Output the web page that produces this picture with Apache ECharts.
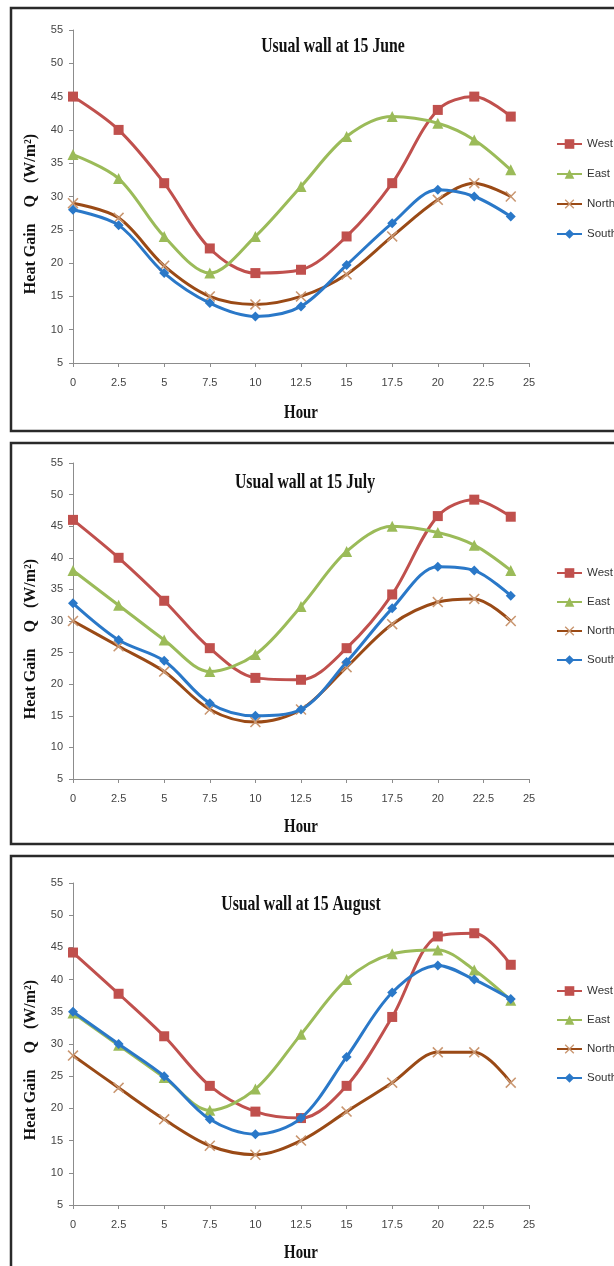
<!DOCTYPE html>
<html><head><meta charset="utf-8">
<script src="https://cdn.jsdelivr.net/npm/echarts@6/dist/echarts.min.js"></script>
<style>html,body{margin:0;padding:0;background:#fff}#c{width:614px;height:1266px}</style>
</head><body><div id="c"></div>
<script>
// ---- data ----
const hours = [0, 2.5, 5, 7.5, 10, 12.5, 15, 17.5, 20, 22, 24];
const seriesNames = ['West', 'East', 'North', 'South'];
const panelTitles = ['Usual wall at 15 June', 'Usual wall at 15 July', 'Usual wall at 15 August'];
const yAxisTitle = 'Heat Gain    Q   (W/m\u00B2)';
const xAxisTitle = 'Hour';
const xMin = 0, xMax = 25, xStep = 2.5;
const yMin = 5, yMax = 55, yStep = 5;

const juneWest  = [45, 40, 32, 22.2, 18.5, 19, 24, 32, 43, 45, 42];
const juneEast  = [36.3, 32.7, 24, 18.5, 24, 31.5, 39, 42, 41, 38.5, 34];
const juneNorth = [29, 26.8, 19.6, 15, 13.8, 15, 18.3, 24, 29.5, 32, 30];
const juneSouth = [28, 25.7, 18.5, 14, 12, 13.5, 19.7, 26, 31, 30, 27];

const julyWest  = [46, 40, 33.2, 25.7, 21, 20.7, 25.7, 34.2, 46.6, 49.2, 46.5];
const julyEast  = [38, 32.5, 27, 22, 24.7, 32.3, 41, 45, 44, 42, 38];
const julyNorth = [30, 26, 22, 16, 14, 16, 22.7, 29.5, 33, 33.5, 30];
const julySouth = [32.8, 27, 23.7, 17, 15, 16, 23.5, 32, 38.6, 38, 34];

const augWest  = [44.2, 37.8, 31.2, 23.5, 19.5, 18.5, 23.5, 34.2, 46.7, 47.2, 42.3];
const augEast  = [34.8, 29.8, 24.8, 19.7, 23, 31.5, 40, 44, 44.6, 41.5, 36.8];
const augNorth = [28.2, 23.2, 18.3, 14.2, 12.8, 15, 19.5, 24, 28.7, 28.7, 24];
const augSouth = [35, 30, 25, 18.3, 16, 18.5, 28, 38, 42.2, 40, 37];

const panelData = [
  [juneWest, juneEast, juneNorth, juneSouth],
  [julyWest, julyEast, julyNorth, julySouth],
  [augWest, augEast, augNorth, augSouth]
];

// ---- styles / layout ----
const colors = {
  West:  {line: '#C0504D', mark: '#C0504D', symbol: 'rect', size: 10},
  East:  {line: '#9BBB59', mark: '#9BBB59', symbol: 'triangle', size: 11},
  North: {line: '#9A4A16', mark: '#C99670', symbol: 'path://M0,1 L1,0 L5,4 L9,0 L10,1 L6,5 L10,9 L9,10 L5,6 L1,10 L0,9 L4,5 Z', size: 11},
  South: {line: '#2A78C8', mark: '#2A78C8', symbol: 'diamond', size: 10}
};
const layout = [
  {top: 30,  y5: 363,  legendTop: 133, gap: 18, titleX: 333, titleY: 47,  yNameY: 214,  hourY: 413,  boxTop: 8,   boxBottom: 431},
  {top: 463, y5: 779,  legendTop: 562, gap: 17, titleX: 305, titleY: 483, yNameY: 639,  hourY: 827,  boxTop: 443, boxBottom: 844},
  {top: 883, y5: 1205, legendTop: 980, gap: 17, titleX: 301, titleY: 905, yNameY: 1060, hourY: 1253, boxTop: 856, boxBottom: 1300}
];
const gridLeft = 73, gridWidth = 456;
const tickFont = "'Liberation Sans', sans-serif";
const serifFont = "'Liberation Serif', 'DejaVu Serif', serif";

const grids = [], xAxes = [], yAxes = [], series = [], legends = [], graphics = [];
layout.forEach((L, p) => {
  grids.push({left: gridLeft, width: gridWidth, top: L.top, height: L.y5 - L.top});
  xAxes.push({
    type: 'value', gridIndex: p, min: xMin, max: xMax, interval: xStep,
    splitLine: {show: false},
    axisLine: {show: true, lineStyle: {color: '#8c8c8c', width: 1}},
    axisTick: {show: true, length: 4, lineStyle: {color: '#8c8c8c'}},
    axisLabel: {color: '#444', fontSize: 11, fontFamily: tickFont, margin: 14}
  });
  yAxes.push({
    type: 'value', gridIndex: p, min: yMin, max: yMax, interval: yStep,
    splitLine: {show: false},
    axisLine: {show: true, lineStyle: {color: '#8c8c8c', width: 1}},
    axisTick: {show: true, length: 4, lineStyle: {color: '#8c8c8c'}},
    axisLabel: {color: '#444', fontSize: 11, fontFamily: tickFont, margin: 10}
  });
  seriesNames.forEach((name, k) => {
    const c = colors[name];
    series.push({
      type: 'line', name: name, xAxisIndex: p, yAxisIndex: p,
      data: hours.map((h, i) => [h, panelData[p][k][i]]),
      smooth: 0.33,
      symbol: c.symbol, symbolSize: c.size, showSymbol: true,
      lineStyle: {color: c.line, width: 3},
      itemStyle: {color: c.mark},
      z: 2 + k,
      emphasis: {disabled: true},
      animation: false
    });
  });
  legends.push({
    orient: 'vertical', left: 551, top: L.legendTop, itemGap: L.gap,
    itemWidth: 25, itemHeight: 12,
    data: seriesNames,
    textStyle: {color: '#333', fontSize: 11.5, fontFamily: tickFont},
    selectedMode: false
  });
  graphics.push({
    type: 'rect', silent: true, z: -10,
    shape: {x: 11, y: L.boxTop, width: 700, height: L.boxBottom - L.boxTop},
    style: {fill: 'none', stroke: '#2a2a2a', lineWidth: 2.5}
  });
  graphics.push({
    type: 'text', silent: true, x: L.titleX, y: L.titleY, scaleX: 0.75,
    style: {text: panelTitles[p], font: 'bold 21px ' + serifFont, fill: '#111', align: 'center', verticalAlign: 'middle'}
  });
  graphics.push({
    type: 'text', silent: true, x: 31, y: L.yNameY, rotation: Math.PI / 2,
    style: {text: yAxisTitle, font: 'bold 16px ' + serifFont, fill: '#111', align: 'center', verticalAlign: 'middle'}
  });
  graphics.push({
    type: 'text', silent: true, x: 301, y: L.hourY, scaleX: 0.78,
    style: {text: xAxisTitle, font: 'bold 19px ' + serifFont, fill: '#111', align: 'center', verticalAlign: 'middle'}
  });
});

const chart = echarts.init(document.getElementById('c'), null, {renderer: 'canvas'});
chart.setOption({
  backgroundColor: '#fff',
  animation: false,
  grid: grids, xAxis: xAxes, yAxis: yAxes, series: series, legend: legends,
  graphic: {elements: graphics}
});
</script></body></html>
